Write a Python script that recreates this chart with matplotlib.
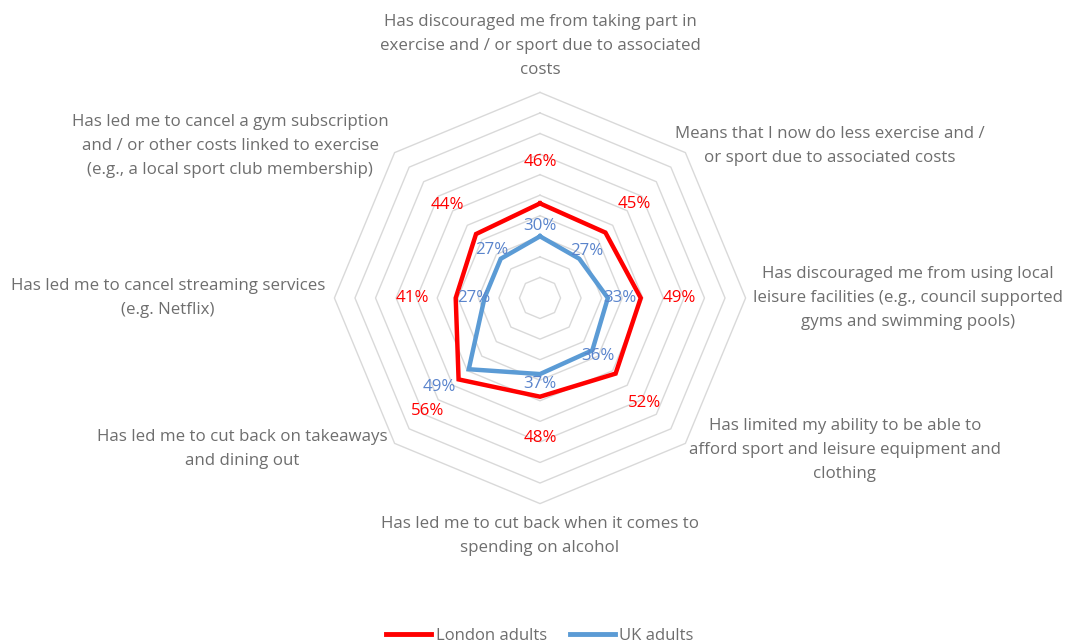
import numpy as np
import matplotlib
matplotlib.use("Agg")
import matplotlib.pyplot as plt
from matplotlib.lines import Line2D

categories = [
    "Has discouraged me from taking part in\nexercise and / or sport due to associated\ncosts",
    "Means that I now do less exercise and /\nor sport due to associated costs",
    "Has discouraged me from using local\nleisure facilities (e.g., council supported\ngyms and swimming pools)",
    "Has limited my ability to be able to\nafford sport and leisure equipment and\nclothing",
    "Has led me to cut back when it comes to\nspending on alcohol",
    "Has led me to cut back on takeaways\nand dining out",
    "Has led me to cancel streaming services\n(e.g. Netflix)",
    "Has led me to cancel a gym subscription\nand / or other costs linked to exercise\n(e.g., a local sport club membership)",
]
london = [46, 45, 49, 52, 48, 56, 41, 44]
uk = [30, 27, 33, 36, 37, 49, 27, 27]
series_names = ["London adults", "UK adults"]

# styling / positions (not data)
red = "#ff0000"
blue = "#5b9bd5"
blue_txt = "#5a84cc"
grey_txt = "#6e6e6e"
grid_col = "#d9d9d9"
london_lbl_off = [20, 20, 19, 20, 20, 21.5, 21, 20]
uk_lbl_off = [5, 5, 6, 4, 5, 18, 5, 6]
uk_lbl_nudge_px = [(0, 0), (0, 0), (0, 0), (0, 0), (0, 0), (-3, 8), (0, 0), (0, 0)]
# category label anchors in pixel offsets from chart centre (dx, dy up)
cat_pos = [(0, 252), (290, 152), (368, 0), (305, -152), (0, -238), (-298, -151), (-372, 0), (-310, 152)]

W, H, DPI = 1071, 642, 100
cx_px, cy_px = 540, 298  # centre (from top)
R_px = 205.6
k = R_px / 100.0

fig = plt.figure(figsize=(W / DPI, H / DPI), dpi=DPI)
ax = fig.add_axes([0, 0, 1, 1])
ax.set_xlim(-cx_px / k, (W - cx_px) / k)
ax.set_ylim(-(H - cy_px) / k, cy_px / k)
ax.set_aspect("equal", adjustable="datalim")
ax.axis("off")

n = len(categories)
ang = np.pi / 2 - np.arange(n) * 2 * np.pi / n


def xy(vals):
    v = np.asarray(vals, dtype=float)
    return v * np.cos(ang), v * np.sin(ang)


# grid rings
for r in range(10, 101, 10):
    gx, gy = xy([r] * n)
    ax.plot(np.append(gx, gx[0]), np.append(gy, gy[0]), color=grid_col, lw=1.0, zorder=1)

# series
for vals, col in [(london, red), (uk, blue)]:
    sx, sy = xy(vals)
    ax.plot(np.append(sx, sx[0]), np.append(sy, sy[0]), color=col, lw=3.2,
            solid_joinstyle="miter", zorder=3)

fp = "Open Sans"
fs = 12.2
# data labels
lx, ly = xy(np.array(london) + np.array(london_lbl_off))
for i in range(n):
    ax.text(lx[i], ly[i], f"{london[i]}%", color=red, fontsize=fs, family=fp,
            ha="center", va="center", zorder=4)
ux, uy = xy(np.array(uk) + np.array(uk_lbl_off))
for i in range(n):
    nx, ny = uk_lbl_nudge_px[i]
    ax.text(ux[i] + nx / k, uy[i] + ny / k, f"{uk[i]}%", color=blue_txt, fontsize=fs,
            family=fp, ha="center", va="center", zorder=4)

# category labels
for i in range(n):
    dx, dy = cat_pos[i]
    ax.text(dx / k, dy / k, categories[i], color=grey_txt, fontsize=fs, family=fp,
            ha="center", va="center", multialignment="center", linespacing=1.68)

handles = [Line2D([], [], color=red, lw=3.5), Line2D([], [], color=blue, lw=3.5)]
fig.legend(handles, series_names, loc="center", bbox_to_anchor=(540 / W, 1 - 636 / H),
           ncol=2, frameon=False, handlelength=2.7, handletextpad=0.25, columnspacing=1.4,
           prop={"family": fp, "size": 12}, labelcolor=grey_txt, borderpad=0)

fig.savefig("out.png", dpi=DPI, facecolor="white")
